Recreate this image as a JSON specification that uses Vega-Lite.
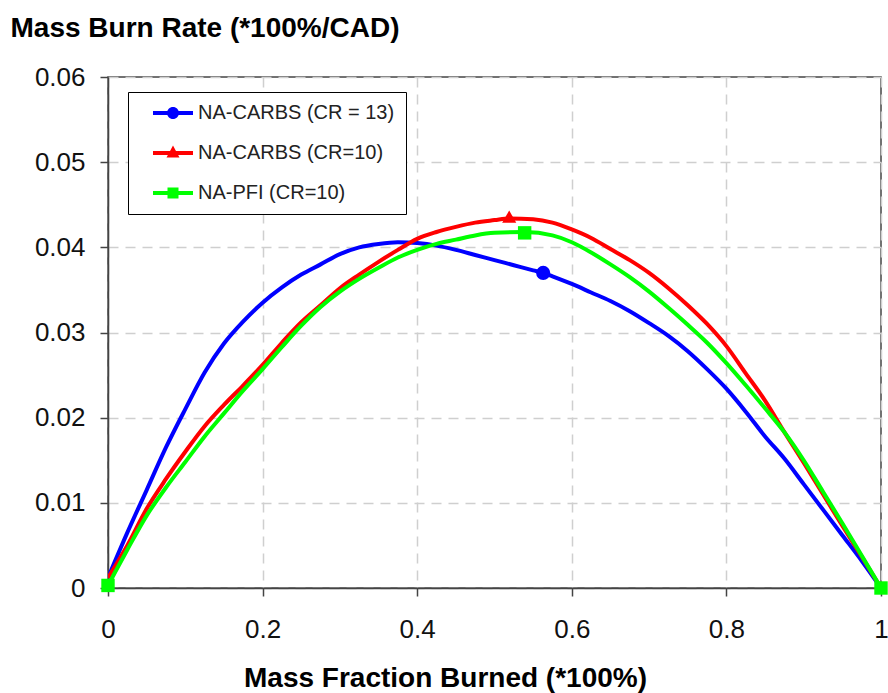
{
  "$schema": "https://vega.github.io/schema/vega-lite/v6.json",
  "width": 773,
  "height": 511,
  "autosize": "none",
  "padding": {"left": 108, "top": 77, "right": 7, "bottom": 105},
  "background": "white",
  "config": {
    "view": {"stroke": "#444", "strokeWidth": 1.5},
    "font": "Liberation Sans"
  },
  "datasets": {
    "curves": [
      {"series": "NA-CARBS (CR = 13)", "x": 0, "y": 0.0012},
      {"series": "NA-CARBS (CR = 13)", "x": 0.025, "y": 0.0065},
      {"series": "NA-CARBS (CR = 13)", "x": 0.05, "y": 0.0115},
      {"series": "NA-CARBS (CR = 13)", "x": 0.075, "y": 0.0165},
      {"series": "NA-CARBS (CR = 13)", "x": 0.1, "y": 0.021},
      {"series": "NA-CARBS (CR = 13)", "x": 0.125, "y": 0.0253},
      {"series": "NA-CARBS (CR = 13)", "x": 0.15, "y": 0.0287},
      {"series": "NA-CARBS (CR = 13)", "x": 0.175, "y": 0.0313},
      {"series": "NA-CARBS (CR = 13)", "x": 0.2, "y": 0.0335},
      {"series": "NA-CARBS (CR = 13)", "x": 0.225, "y": 0.0353},
      {"series": "NA-CARBS (CR = 13)", "x": 0.25, "y": 0.0368},
      {"series": "NA-CARBS (CR = 13)", "x": 0.275, "y": 0.038},
      {"series": "NA-CARBS (CR = 13)", "x": 0.3, "y": 0.0392},
      {"series": "NA-CARBS (CR = 13)", "x": 0.325, "y": 0.04},
      {"series": "NA-CARBS (CR = 13)", "x": 0.35, "y": 0.0404},
      {"series": "NA-CARBS (CR = 13)", "x": 0.375, "y": 0.0406},
      {"series": "NA-CARBS (CR = 13)", "x": 0.4, "y": 0.0405},
      {"series": "NA-CARBS (CR = 13)", "x": 0.425, "y": 0.0402},
      {"series": "NA-CARBS (CR = 13)", "x": 0.45, "y": 0.0397},
      {"series": "NA-CARBS (CR = 13)", "x": 0.475, "y": 0.0391},
      {"series": "NA-CARBS (CR = 13)", "x": 0.5, "y": 0.0385},
      {"series": "NA-CARBS (CR = 13)", "x": 0.525, "y": 0.0379},
      {"series": "NA-CARBS (CR = 13)", "x": 0.55, "y": 0.0373},
      {"series": "NA-CARBS (CR = 13)", "x": 0.563, "y": 0.037},
      {"series": "NA-CARBS (CR = 13)", "x": 0.575, "y": 0.0366},
      {"series": "NA-CARBS (CR = 13)", "x": 0.6, "y": 0.0357},
      {"series": "NA-CARBS (CR = 13)", "x": 0.625, "y": 0.0347},
      {"series": "NA-CARBS (CR = 13)", "x": 0.65, "y": 0.0337},
      {"series": "NA-CARBS (CR = 13)", "x": 0.675, "y": 0.0325},
      {"series": "NA-CARBS (CR = 13)", "x": 0.7, "y": 0.0311},
      {"series": "NA-CARBS (CR = 13)", "x": 0.725, "y": 0.0296},
      {"series": "NA-CARBS (CR = 13)", "x": 0.75, "y": 0.0278},
      {"series": "NA-CARBS (CR = 13)", "x": 0.775, "y": 0.0257},
      {"series": "NA-CARBS (CR = 13)", "x": 0.8, "y": 0.0234},
      {"series": "NA-CARBS (CR = 13)", "x": 0.825, "y": 0.0207},
      {"series": "NA-CARBS (CR = 13)", "x": 0.85, "y": 0.0178},
      {"series": "NA-CARBS (CR = 13)", "x": 0.875, "y": 0.0152},
      {"series": "NA-CARBS (CR = 13)", "x": 0.9, "y": 0.0122},
      {"series": "NA-CARBS (CR = 13)", "x": 0.925, "y": 0.0092},
      {"series": "NA-CARBS (CR = 13)", "x": 0.95, "y": 0.0062},
      {"series": "NA-CARBS (CR = 13)", "x": 0.975, "y": 0.0032},
      {"series": "NA-CARBS (CR = 13)", "x": 1, "y": 0},
      {"series": "NA-CARBS (CR=10)", "x": 0, "y": 0.0012},
      {"series": "NA-CARBS (CR=10)", "x": 0.025, "y": 0.005},
      {"series": "NA-CARBS (CR=10)", "x": 0.05, "y": 0.0093},
      {"series": "NA-CARBS (CR=10)", "x": 0.075, "y": 0.0128},
      {"series": "NA-CARBS (CR=10)", "x": 0.1, "y": 0.016},
      {"series": "NA-CARBS (CR=10)", "x": 0.125, "y": 0.019},
      {"series": "NA-CARBS (CR=10)", "x": 0.15, "y": 0.0215},
      {"series": "NA-CARBS (CR=10)", "x": 0.175, "y": 0.0238},
      {"series": "NA-CARBS (CR=10)", "x": 0.2, "y": 0.0262},
      {"series": "NA-CARBS (CR=10)", "x": 0.225, "y": 0.0288},
      {"series": "NA-CARBS (CR=10)", "x": 0.25, "y": 0.0312},
      {"series": "NA-CARBS (CR=10)", "x": 0.275, "y": 0.0332},
      {"series": "NA-CARBS (CR=10)", "x": 0.3, "y": 0.0352},
      {"series": "NA-CARBS (CR=10)", "x": 0.325, "y": 0.0368},
      {"series": "NA-CARBS (CR=10)", "x": 0.35, "y": 0.0383},
      {"series": "NA-CARBS (CR=10)", "x": 0.375, "y": 0.0397},
      {"series": "NA-CARBS (CR=10)", "x": 0.4, "y": 0.041},
      {"series": "NA-CARBS (CR=10)", "x": 0.425, "y": 0.0418},
      {"series": "NA-CARBS (CR=10)", "x": 0.45, "y": 0.0424},
      {"series": "NA-CARBS (CR=10)", "x": 0.475, "y": 0.0429},
      {"series": "NA-CARBS (CR=10)", "x": 0.5, "y": 0.0432},
      {"series": "NA-CARBS (CR=10)", "x": 0.519, "y": 0.0434},
      {"series": "NA-CARBS (CR=10)", "x": 0.55, "y": 0.0433},
      {"series": "NA-CARBS (CR=10)", "x": 0.575, "y": 0.0429},
      {"series": "NA-CARBS (CR=10)", "x": 0.6, "y": 0.0421},
      {"series": "NA-CARBS (CR=10)", "x": 0.625, "y": 0.0411},
      {"series": "NA-CARBS (CR=10)", "x": 0.65, "y": 0.0398},
      {"series": "NA-CARBS (CR=10)", "x": 0.675, "y": 0.0385},
      {"series": "NA-CARBS (CR=10)", "x": 0.7, "y": 0.037},
      {"series": "NA-CARBS (CR=10)", "x": 0.725, "y": 0.0352},
      {"series": "NA-CARBS (CR=10)", "x": 0.75, "y": 0.0332},
      {"series": "NA-CARBS (CR=10)", "x": 0.775, "y": 0.031},
      {"series": "NA-CARBS (CR=10)", "x": 0.8, "y": 0.0284},
      {"series": "NA-CARBS (CR=10)", "x": 0.825, "y": 0.0252},
      {"series": "NA-CARBS (CR=10)", "x": 0.85, "y": 0.022},
      {"series": "NA-CARBS (CR=10)", "x": 0.875, "y": 0.0183},
      {"series": "NA-CARBS (CR=10)", "x": 0.9, "y": 0.0147},
      {"series": "NA-CARBS (CR=10)", "x": 0.925, "y": 0.011},
      {"series": "NA-CARBS (CR=10)", "x": 0.95, "y": 0.0073},
      {"series": "NA-CARBS (CR=10)", "x": 0.975, "y": 0.0037},
      {"series": "NA-CARBS (CR=10)", "x": 1, "y": 0},
      {"series": "NA-PFI (CR=10)", "x": 0, "y": 0.0003},
      {"series": "NA-PFI (CR=10)", "x": 0.01, "y": 0.002},
      {"series": "NA-PFI (CR=10)", "x": 0.025, "y": 0.0045},
      {"series": "NA-PFI (CR=10)", "x": 0.05, "y": 0.0085},
      {"series": "NA-PFI (CR=10)", "x": 0.075, "y": 0.0118},
      {"series": "NA-PFI (CR=10)", "x": 0.1, "y": 0.0148},
      {"series": "NA-PFI (CR=10)", "x": 0.125, "y": 0.0178},
      {"series": "NA-PFI (CR=10)", "x": 0.15, "y": 0.0205},
      {"series": "NA-PFI (CR=10)", "x": 0.175, "y": 0.0232},
      {"series": "NA-PFI (CR=10)", "x": 0.2, "y": 0.0257},
      {"series": "NA-PFI (CR=10)", "x": 0.225, "y": 0.0283},
      {"series": "NA-PFI (CR=10)", "x": 0.25, "y": 0.0308},
      {"series": "NA-PFI (CR=10)", "x": 0.275, "y": 0.033},
      {"series": "NA-PFI (CR=10)", "x": 0.3, "y": 0.0348},
      {"series": "NA-PFI (CR=10)", "x": 0.325, "y": 0.0363},
      {"series": "NA-PFI (CR=10)", "x": 0.35, "y": 0.0376},
      {"series": "NA-PFI (CR=10)", "x": 0.375, "y": 0.0388},
      {"series": "NA-PFI (CR=10)", "x": 0.4, "y": 0.0397},
      {"series": "NA-PFI (CR=10)", "x": 0.425, "y": 0.0404},
      {"series": "NA-PFI (CR=10)", "x": 0.45, "y": 0.0409},
      {"series": "NA-PFI (CR=10)", "x": 0.475, "y": 0.0414},
      {"series": "NA-PFI (CR=10)", "x": 0.5, "y": 0.0417},
      {"series": "NA-PFI (CR=10)", "x": 0.539, "y": 0.0418},
      {"series": "NA-PFI (CR=10)", "x": 0.575, "y": 0.0414},
      {"series": "NA-PFI (CR=10)", "x": 0.6, "y": 0.0406},
      {"series": "NA-PFI (CR=10)", "x": 0.625, "y": 0.0394},
      {"series": "NA-PFI (CR=10)", "x": 0.65, "y": 0.038},
      {"series": "NA-PFI (CR=10)", "x": 0.675, "y": 0.0365},
      {"series": "NA-PFI (CR=10)", "x": 0.7, "y": 0.0348},
      {"series": "NA-PFI (CR=10)", "x": 0.725, "y": 0.0329},
      {"series": "NA-PFI (CR=10)", "x": 0.75, "y": 0.0309},
      {"series": "NA-PFI (CR=10)", "x": 0.775, "y": 0.0288},
      {"series": "NA-PFI (CR=10)", "x": 0.8, "y": 0.0264},
      {"series": "NA-PFI (CR=10)", "x": 0.825, "y": 0.0238},
      {"series": "NA-PFI (CR=10)", "x": 0.85, "y": 0.0211},
      {"series": "NA-PFI (CR=10)", "x": 0.875, "y": 0.0183},
      {"series": "NA-PFI (CR=10)", "x": 0.9, "y": 0.015},
      {"series": "NA-PFI (CR=10)", "x": 0.925, "y": 0.0113},
      {"series": "NA-PFI (CR=10)", "x": 0.95, "y": 0.0076},
      {"series": "NA-PFI (CR=10)", "x": 0.975, "y": 0.0038},
      {"series": "NA-PFI (CR=10)", "x": 1, "y": 0}
    ],
    "markers": [
      {"series": "NA-CARBS (CR = 13)", "x": 0.563, "y": 0.037},
      {"series": "NA-CARBS (CR=10)", "x": 0.519, "y": 0.0436},
      {"series": "NA-PFI (CR=10)", "x": 0, "y": 0.0003},
      {"series": "NA-PFI (CR=10)", "x": 0.539, "y": 0.0417},
      {"series": "NA-PFI (CR=10)", "x": 1, "y": 0}
    ]
  },
  "encoding": {
    "x": {
      "field": "x",
      "type": "quantitative",
      "scale": {"domain": [0, 1], "nice": false, "zero": false},
      "axis": {
        "title": "Mass Fraction Burned (*100%)",
        "values": [0, 0.2, 0.4, 0.6, 0.8, 1],
        "format": "~g",
        "grid": true,
        "gridColor": "#cfcfcf",
        "gridDash": [10, 7],
        "gridWidth": 1.5,
        "domainColor": "#444",
        "domainWidth": 1.5,
        "tickColor": "#444",
        "tickSize": 8,
        "tickWidth": 1.5,
        "labelFont": "Liberation Sans",
        "labelFontSize": 26,
        "labelColor": "#111",
        "labelPadding": 20,
        "labelFlush": false,
        "titleFont": "Liberation Sans",
        "titleFontWeight": "bold",
        "titleFontSize": 28,
        "titleColor": "#000",
        "titleX": 337,
        "titleY": 90,
        "titleAlign": "center",
        "titleBaseline": "middle"
      }
    },
    "y": {
      "field": "y",
      "type": "quantitative",
      "scale": {"domain": [0, 0.06], "nice": false},
      "axis": {
        "title": "Mass Burn Rate (*100%/CAD)",
        "values": [0, 0.01, 0.02, 0.03, 0.04, 0.05, 0.06],
        "format": "~g",
        "grid": true,
        "gridColor": "#cfcfcf",
        "gridDash": [10, 7],
        "gridWidth": 1.5,
        "domainColor": "#444",
        "domainWidth": 1.5,
        "tickColor": "#444",
        "tickSize": 8,
        "tickWidth": 1.5,
        "labelFont": "Liberation Sans",
        "labelFontSize": 26,
        "labelColor": "#111",
        "labelPadding": 15,
        "labelFlush": false,
        "titleFont": "Liberation Sans",
        "titleFontWeight": "bold",
        "titleFontSize": 28,
        "titleColor": "#000",
        "titleAngle": 0,
        "titleX": -98,
        "titleY": -49,
        "titleAlign": "left",
        "titleBaseline": "middle"
      }
    },
    "color": {
      "field": "series",
      "type": "nominal",
      "scale": {
        "domain": ["NA-CARBS (CR = 13)", "NA-CARBS (CR=10)", "NA-PFI (CR=10)"],
        "range": ["#0000ff", "#ff0000", "#00ff00"]
      },
      "legend": {
        "title": null,
        "orient": "none",
        "legendX": 20,
        "legendY": 15,
        "fillColor": "white",
        "strokeColor": "#000",
        "padding": 11,
        "symbolSize": 400,
        "symbolOffset": 24,
        "symbolStrokeWidth": 0,
        "labelOffset": 15,
        "rowPadding": 20,
        "labelFont": "Liberation Sans",
        "labelFontSize": 20,
        "labelColor": "#222",
        "labelLimit": 400
      }
    }
  },
  "layer": [
    {
      "data": {"name": "curves"},
      "mark": {"type": "line", "strokeWidth": 4, "interpolate": "monotone", "clip": true}
    },
    {
      "data": {"name": "markers"},
      "transform": [{"filter": "false"}],
      "mark": {"type": "point", "filled": true, "opacity": 1},
      "encoding": {
        "shape": {
          "field": "series",
          "type": "nominal",
          "scale": {
            "domain": ["NA-CARBS (CR = 13)", "NA-CARBS (CR=10)", "NA-PFI (CR=10)"],
            "range": [
              "M-2,-0.2L2,-0.2L2,0.2L-2,0.2ZM-0.6,0A0.6,0.6 0 1,1 0.6,0A0.6,0.6 0 1,1 -0.6,0Z",
              "M-2,-0.2L2,-0.2L2,0.2L-2,0.2ZM0,-0.75L0.65,0.45L-0.65,0.45Z",
              "M-2,-0.2L2,-0.2L2,0.2L-2,0.2ZM-0.55,-0.55L0.55,-0.55L0.55,0.55L-0.55,0.55Z"
            ]
          },
          "legend": {
            "title": null,
            "orient": "none",
            "legendX": 20,
            "legendY": 15,
            "fillColor": "white",
            "strokeColor": "#000",
            "padding": 11,
            "symbolSize": 400,
            "symbolOffset": 24,
            "symbolStrokeWidth": 0,
            "labelOffset": 15,
            "rowPadding": 20,
            "labelFont": "Liberation Sans",
            "labelFontSize": 20,
            "labelColor": "#222",
            "labelLimit": 400
          }
        }
      }
    },
    {
      "data": {"name": "markers"},
      "transform": [{"filter": "datum.series === 'NA-CARBS (CR = 13)'"}],
      "mark": {"type": "point", "filled": true, "opacity": 1, "size": 200, "shape": "circle", "clip": false}
    },
    {
      "data": {"name": "markers"},
      "transform": [{"filter": "datum.series === 'NA-CARBS (CR=10)'"}],
      "mark": {"type": "point", "filled": true, "opacity": 1, "size": 200, "shape": "triangle-up", "clip": false}
    },
    {
      "data": {"name": "markers"},
      "transform": [{"filter": "datum.series === 'NA-PFI (CR=10)'"}],
      "mark": {"type": "point", "filled": true, "opacity": 1, "size": 180, "shape": "square", "clip": false}
    }
  ]
}
